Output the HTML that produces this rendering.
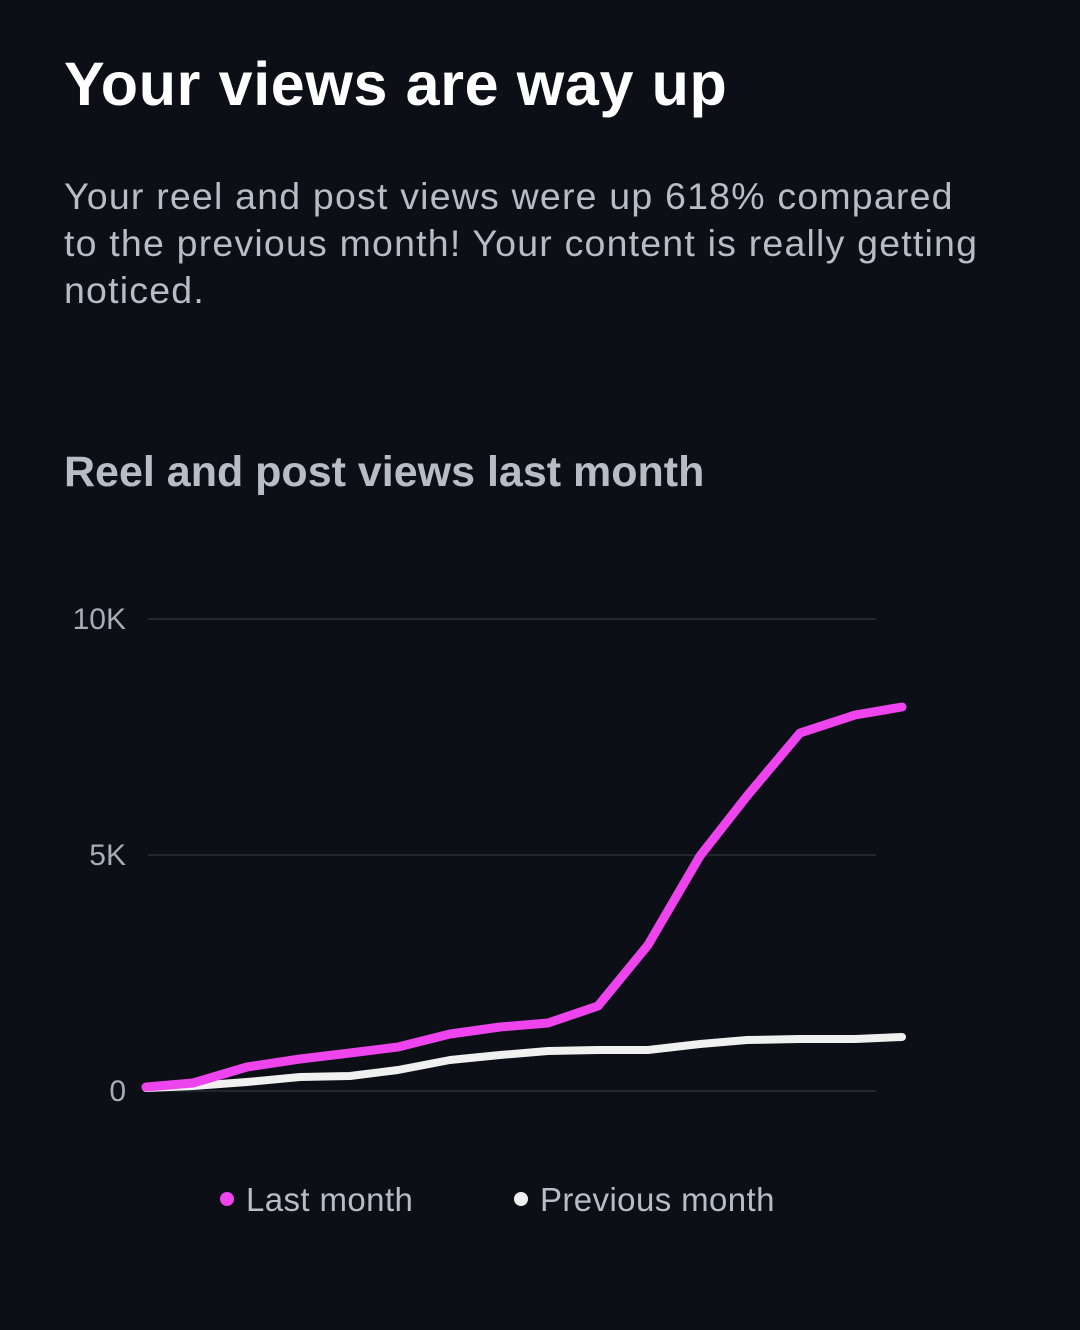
<!DOCTYPE html>
<html><head><style>
body{margin:0;width:1080px;height:1330px;background:#0c0f16;overflow:hidden;font-family:"Liberation Sans",sans-serif;position:relative}
.t{position:absolute;left:64px;top:49px;color:#fff;font-size:61px;font-weight:bold;letter-spacing:0.65px}
.p{position:absolute;left:64px;top:173px;white-space:nowrap;color:#b8bcc4;font-size:37.5px;line-height:47px;letter-spacing:1.2px}
.h{position:absolute;left:64px;top:448px;color:#b8bcc4;font-size:43px;font-weight:bold}
</style></head><body>
<div class="t">Your views are way up</div>
<div class="p">Your reel and post views were up 618% compared<br>to the previous month! Your content is really getting<br>noticed.</div>
<div class="h">Reel and post views last month</div>
<svg width="1080" height="1330" style="position:absolute;left:0;top:0" font-family="Liberation Sans, sans-serif">
<g stroke="#2a2e36" stroke-width="1.5">
<line x1="148" y1="619" x2="876" y2="619"/><line x1="148" y1="855" x2="876" y2="855"/><line x1="148" y1="1091" x2="876" y2="1091"/>
</g>
<g fill="#a8acb4" font-size="30" text-anchor="end">
<text x="126" y="629">10K</text><text x="126" y="865">5K</text><text x="126" y="1101">0</text>
</g>
<polyline fill="none" stroke="#f0f0f0" stroke-width="8" stroke-linejoin="round" stroke-linecap="round" points="146,1088 193,1086 247,1082 300,1077 350,1076 398,1070 450,1060 500,1055 548,1051 598,1050 648,1050 700,1044 747,1040 800,1039 855,1039 902,1037"/>
<polyline fill="none" stroke="#ee44ee" stroke-width="9" stroke-linejoin="round" stroke-linecap="round" points="146,1087 193,1083 247,1067 300,1059 350,1053 398,1047 450,1034 500,1027 548,1023 598,1006 648,945 700,856 747,796 800,733 855,715 902,707"/>
<circle cx="227" cy="1199" r="7" fill="#ee44ee"/>
<circle cx="521" cy="1199" r="7" fill="#f0f0f0"/>
<g fill="#b8bcc4" font-size="33" letter-spacing="0.4"><text x="246" y="1211">Last month</text><text x="540" y="1211">Previous month</text></g>
</svg>
</body></html>
